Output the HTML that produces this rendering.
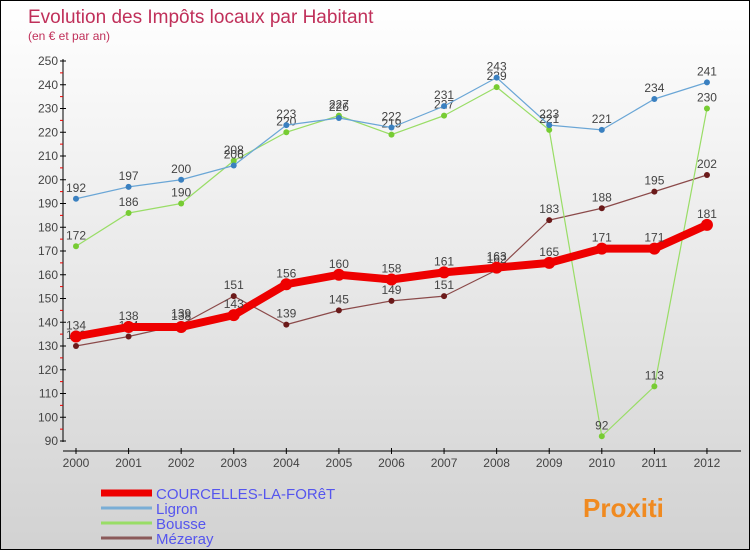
<!DOCTYPE html>
<html><head><meta charset="utf-8"><style>
body{margin:0}
#c{width:750px;height:550px;position:relative;background:linear-gradient(#ffffff,#d2d2d2);border:1px solid #000;box-sizing:border-box;overflow:hidden;font-family:"Liberation Sans",sans-serif}
</style></head><body>
<div id="c">
<svg id="s" width="750" height="550"></svg>
</div>
<script>
const years=["2000","2001","2002","2003","2004","2005","2006","2007","2008","2009","2010","2011","2012"];
const courcelles=[134,138,138,143,156,160,158,161,163,165,171,171,181];
const ligron=[192,197,200,206,223,226,222,231,243,223,221,234,241];
const bousse=[172,186,190,208,220,227,219,227,239,221,92,113,230];
const mezeray=[130,134,139,151,139,145,149,151,162,183,188,195,202];
const yTicks=[90,100,110,120,130,140,150,160,170,180,190,200,210,220,230,240,250];
const NS="http://www.w3.org/2000/svg",s=document.getElementById('s');
const X=i=>75+i*52.58, Y=v=>440-(v-90)*2.375;
function el(t,a,p){const e=document.createElementNS(NS,t);for(const k in a)e.setAttribute(k,a[k]);(p||s).appendChild(e);return e;}
function tx(x,y,str,o){const e=el('text',Object.assign({x:x,y:y,'font-size':12,fill:'#444'},o||{}));e.textContent=str;return e;}
let t=tx(27,22,"Evolution des Impôts locaux par Habitant",{'font-size':19,fill:'#c0305a'});

t=tx(27,39,"(en € et par an)",{'font-size':12,fill:'#c0305a'});

let ax=el('g',{});
el('line',{x1:62,y1:58,x2:62,y2:441,stroke:'#000'},ax);
yTicks.forEach((v,i)=>{el('line',{x1:59,y1:Y(v),x2:65,y2:Y(v),stroke:'#000'},ax);
 if(i<yTicks.length-1)el('line',{x1:59,y1:Y(v+5),x2:62,y2:Y(v+5),stroke:'#e00'},ax);
 tx(57,Y(v)+4,v,{'text-anchor':'end'},ax);});
let xa=el('g',{});
el('line',{x1:62,y1:450,x2:740,y2:450,stroke:'#000'},xa);
years.forEach((y,i)=>{el('line',{x1:X(i),y1:447,x2:X(i),y2:453,stroke:'#000'},xa);tx(X(i),466,y,{'text-anchor':'middle'},xa);});
function series(d,name,col,dot,w,r){const g=el('g',{});
 el('polyline',{points:d.map((v,i)=>X(i)+','+Y(v)).join(' '),fill:'none',stroke:col,'stroke-width':w,'stroke-linejoin':'round'},g);
 d.forEach((v,i)=>{const c=el('circle',{cx:X(i),cy:Y(v),r:r,fill:dot},g);
  tx(X(i),Y(v)-7,v,{'text-anchor':'middle'},g);});}
series(mezeray,'mezeray','#8b4a4a','#6b1a1a',1.2,3);
series(bousse,'bousse','#99dd66','#77cc33',1.2,3);
series(ligron,'ligron','#6aa6d6','#3a80c0',1.2,3);
series(courcelles,'courcelles','#ee0000','#ee0000',8,6);
const leg=[["COURCELLES-LA-FORêT","#ee0000",7],["Ligron","#7aaed6",3],["Bousse","#99dd66",3],["Mézeray","#8b5a5a",3]];
leg.forEach((l,i)=>{const g=el('g',{});
 const y=492+i*15;el('line',{x1:100,y1:y,x2:151,y2:y,stroke:l[1],'stroke-width':l[2]},g);
 tx(155,y+6,l[0],{'font-size':15,fill:'#5555ee'},g);});
t=tx(582,516,"Proxiti",{'font-size':26,'font-weight':'bold',fill:'#f08a20'});

</script>
</body></html>
